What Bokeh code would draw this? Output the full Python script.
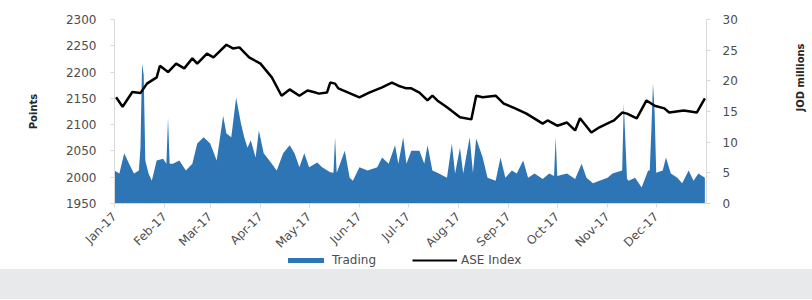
import math
from datetime import datetime
from bokeh.plotting import figure
from bokeh.models import (Range1d, LinearAxis, FixedTicker, DatetimeTickFormatter,
                          Legend, LegendItem, Div, ColumnDataSource)
from bokeh.layouts import column
from bokeh.embed import file_html
from bokeh.resources import INLINE

# ---------------- data ----------------
index_dates = ["2017-01-02", "2017-01-06", "2017-01-12", "2017-01-17", "2017-01-21", "2017-01-27",
               "2017-01-29", "2017-02-03", "2017-02-08", "2017-02-13", "2017-02-18", "2017-02-21",
               "2017-02-27", "2017-03-03", "2017-03-11", "2017-03-15", "2017-03-19", "2017-03-25",
               "2017-04-01", "2017-04-08", "2017-04-14", "2017-04-19", "2017-04-25", "2017-04-30",
               "2017-05-05", "2017-05-07", "2017-05-12", "2017-05-14", "2017-05-17", "2017-05-19",
               "2017-06-01", "2017-06-07", "2017-06-15", "2017-06-21", "2017-06-25", "2017-06-30",
               "2017-07-03", "2017-07-08", "2017-07-13", "2017-07-16", "2017-07-19", "2017-07-25",
               "2017-08-02", "2017-08-09", "2017-08-12", "2017-08-16", "2017-08-24", "2017-08-29",
               "2017-09-05", "2017-09-12", "2017-09-22", "2017-09-25", "2017-10-01", "2017-10-07",
               "2017-10-12", "2017-10-15", "2017-10-22", "2017-10-27", "2017-11-02", "2017-11-05",
               "2017-11-10", "2017-11-13", "2017-11-19", "2017-11-25", "2017-11-30", "2017-12-06",
               "2017-12-09", "2017-12-18", "2017-12-26", "2017-12-31"]
index_values = [2152, 2134, 2162, 2160, 2178, 2190,
                2212, 2200, 2216, 2207, 2226, 2216,
                2235, 2228, 2252, 2245, 2247, 2228,
                2216, 2190, 2155, 2167, 2155, 2165,
                2161, 2159, 2161, 2180, 2178, 2169,
                2152, 2161, 2171, 2180, 2174, 2169,
                2169, 2161, 2146, 2155, 2146, 2133,
                2114, 2110, 2155, 2152, 2155, 2140,
                2131, 2121, 2102, 2108, 2098, 2104,
                2089, 2112, 2085, 2095, 2104, 2108,
                2123, 2121, 2112, 2146, 2136, 2131,
                2123, 2127, 2123, 2150]

trading_dates = ["2017-01-01", "2017-01-04", "2017-01-07", "2017-01-10", "2017-01-13", "2017-01-16",
                 "2017-01-17", "2017-01-18", "2017-01-19", "2017-01-20", "2017-01-22", "2017-01-24",
                 "2017-01-27", "2017-01-31", "2017-02-02", "2017-02-03", "2017-02-04", "2017-02-06",
                 "2017-02-10", "2017-02-14", "2017-02-18", "2017-02-21", "2017-02-25", "2017-03-01",
                 "2017-03-05", "2017-03-09", "2017-03-11", "2017-03-14", "2017-03-17", "2017-03-20",
                 "2017-03-22", "2017-03-24", "2017-03-26", "2017-03-29", "2017-03-31", "2017-04-03",
                 "2017-04-08", "2017-04-11", "2017-04-15", "2017-04-19", "2017-04-22", "2017-04-25",
                 "2017-04-28", "2017-05-01", "2017-05-06", "2017-05-09", "2017-05-14", "2017-05-16",
                 "2017-05-17", "2017-05-18", "2017-05-23", "2017-05-26", "2017-05-28", "2017-06-01",
                 "2017-06-06", "2017-06-12", "2017-06-15", "2017-06-19", "2017-06-23", "2017-06-25",
                 "2017-06-28", "2017-06-30", "2017-07-03", "2017-07-08", "2017-07-11", "2017-07-13",
                 "2017-07-16", "2017-07-20", "2017-07-25", "2017-07-28", "2017-07-30", "2017-08-02",
                 "2017-08-04", "2017-08-08", "2017-08-10", "2017-08-12", "2017-08-16", "2017-08-19",
                 "2017-08-24", "2017-08-27", "2017-08-30", "2017-09-03", "2017-09-06", "2017-09-10",
                 "2017-09-13", "2017-09-17", "2017-09-22", "2017-09-26", "2017-09-29", "2017-09-30",
                 "2017-10-01", "2017-10-07", "2017-10-12", "2017-10-16", "2017-10-19", "2017-10-23",
                 "2017-10-27", "2017-11-01", "2017-11-04", "2017-11-10", "2017-11-11", "2017-11-13",
                 "2017-11-14", "2017-11-18", "2017-11-22", "2017-11-26", "2017-11-27", "2017-11-28",
                 "2017-11-29", "2017-11-30", "2017-12-01", "2017-12-05", "2017-12-07", "2017-12-10",
                 "2017-12-14", "2017-12-17", "2017-12-21", "2017-12-24", "2017-12-27", "2017-12-31"]
trading_values = [5.4, 4.9, 8.2, 6.5, 4.9, 5.4,
                  9.0, 22.8, 21.0, 7.0, 4.9, 3.7,
                  7.0, 7.3, 6.5, 14.0, 6.5, 6.5,
                  7.0, 5.4, 6.5, 9.8, 10.8, 9.8,
                  7.0, 14.3, 11.4, 10.8, 17.3, 13.0,
                  10.8, 9.1, 10.3, 7.5, 11.9, 8.2,
                  6.5, 5.4, 8.2, 9.5, 8.2, 5.9,
                  8.2, 5.9, 6.7, 5.9, 5.1, 5.0,
                  10.8, 5.0, 8.6, 4.2, 3.7, 5.9,
                  5.4, 5.9, 7.5, 6.5, 9.5, 6.5,
                  10.8, 6.5, 8.6, 8.6, 6.5, 9.5,
                  5.4, 4.9, 4.2, 9.8, 4.9, 9.1,
                  4.9, 10.8, 5.0, 10.6, 7.5, 4.2,
                  3.7, 7.5, 4.2, 5.4, 4.9, 7.0,
                  4.2, 4.9, 4.0, 4.9, 4.5, 10.8,
                  4.5, 4.9, 4.0, 6.5, 4.2, 3.3,
                  3.7, 4.2, 4.9, 5.4, 16.3, 4.0,
                  3.7, 4.2, 2.6, 5.4, 5.4, 12.0,
                  19.6, 15.0, 5.0, 5.4, 7.5, 4.9,
                  4.2, 3.3, 5.4, 3.7, 4.9, 4.2]

month_starts = ["2017-01-01", "2017-02-01", "2017-03-01", "2017-04-01", "2017-05-01", "2017-06-01",
                "2017-07-01", "2017-08-01", "2017-09-01", "2017-10-01", "2017-11-01", "2017-12-01"]
left_ticks = [1950, 2000, 2050, 2100, 2150, 2200, 2250, 2300]
right_ticks = [0, 5, 10, 15, 20, 25, 30]
series_names = ["Trading", "ASE Index"]

# ---------------- plot ----------------
def to_dt(s):
    return datetime.strptime(s, "%Y-%m-%d")

def to_ms(s):
    return (to_dt(s) - datetime(1970, 1, 1)).total_seconds() * 1000.0

FONT = "DejaVu Sans"
TXT = "#4d4d4d"
GRAYLINE = "#d9d9d9"
BLUE = "#2E75B6"

p = figure(x_axis_type="datetime", frame_width=592, frame_height=184,
           output_backend="svg", toolbar_location=None,
           x_range=Range1d(to_dt("2017-01-01"), to_dt("2018-01-01")),
           y_range=Range1d(1950, 2300),
           min_border_left=114, min_border_right=106, min_border_top=19, min_border_bottom=45)
p.extra_y_ranges = {"vol": Range1d(0, 30)}
p.grid.visible = False
p.outline_line_color = None
p.background_fill_color = "white"
p.border_fill_color = "white"

tsrc = ColumnDataSource(dict(x=[to_dt(d) for d in trading_dates], y=trading_values))
isrc = ColumnDataSource(dict(x=[to_dt(d) for d in index_dates], y=index_values))

area = p.varea(x="x", y1=0, y2="y", source=tsrc, y_range_name="vol", fill_color=BLUE)
line = p.line(x="x", y="y", source=isrc, line_color="black", line_width=2.5)

# x axis
xa = p.xaxis[0]
xa.ticker = FixedTicker(ticks=[to_ms(m) for m in month_starts])
fmt = "%b-%y"
xa.formatter = DatetimeTickFormatter(milliseconds=fmt, seconds=fmt, minsec=fmt, minutes=fmt,
                                     hourmin=fmt, hours=fmt, days=fmt, months=fmt, years=fmt)
xa.major_label_orientation = math.pi / 4
xa.major_tick_in = 0
xa.major_tick_out = 4
xa.major_label_standoff = 7

# left axis
ya = p.yaxis[0]
ya.ticker = FixedTicker(ticks=left_ticks)
ya.axis_label = "Points"
ya.major_label_standoff = 14
ya.axis_label_standoff = 24

# right axis
ra = LinearAxis(y_range_name="vol", ticker=FixedTicker(ticks=right_ticks), axis_label="JOD millions")
ra.major_label_standoff = 12
ra.axis_label_standoff = 60
try:
    ra.axis_label_orientation = math.pi / 2
except Exception:
    pass
p.add_layout(ra, "right")

for ax in [xa, ya, ra]:
    ax.axis_line_color = GRAYLINE
    ax.major_tick_line_color = GRAYLINE
    ax.minor_tick_line_color = None
    ax.major_label_text_font = FONT
    ax.major_label_text_font_size = "12px"
    ax.major_label_text_color = TXT
    ax.axis_label_text_font = FONT
    ax.axis_label_text_font_size = "10px"
    ax.axis_label_text_font_style = "bold"
    ax.axis_label_text_color = "#262626"
for ax in [ya, ra]:
    ax.major_tick_in = 0
    ax.major_tick_out = 4

# legend strip: same series, plotted off-range so only the legend keys show
lg = figure(width=812, height=22, output_backend="svg", toolbar_location=None,
            x_axis_location=None, y_axis_location=None, min_border=0,
            x_range=Range1d(-10, -9), y_range=Range1d(-10, -9),
            margin=(-11, 0, 0, 0))
lg.grid.visible = False
lg.outline_line_color = None
lg.border_fill_alpha = 0
lg.background_fill_alpha = 0
k_area = lg.varea(x="x", y1=0, y2="y", source=tsrc, fill_color=BLUE)
k_line = lg.line(x="x", y="y", source=isrc, line_color="black", line_width=2)
legend = Legend(items=[LegendItem(label=series_names[0], renderers=[k_area]),
                       LegendItem(label=series_names[1], renderers=[k_line])],
                orientation="horizontal", location=(169, 2),
                glyph_width=45, glyph_height=6, label_standoff=4, spacing=36,
                padding=2, margin=0, border_line_color=None, background_fill_alpha=0,
                label_text_font=FONT, label_text_font_size="12px", label_text_color=TXT)
lg.add_layout(legend, "center")

band = Div(text="", width=812, height=30, margin=0,
           styles={"background-color": "#e8e9ea"})

layout = column(p, lg, band, spacing=0)

open("out.html", "w").write(file_html(layout, INLINE))
